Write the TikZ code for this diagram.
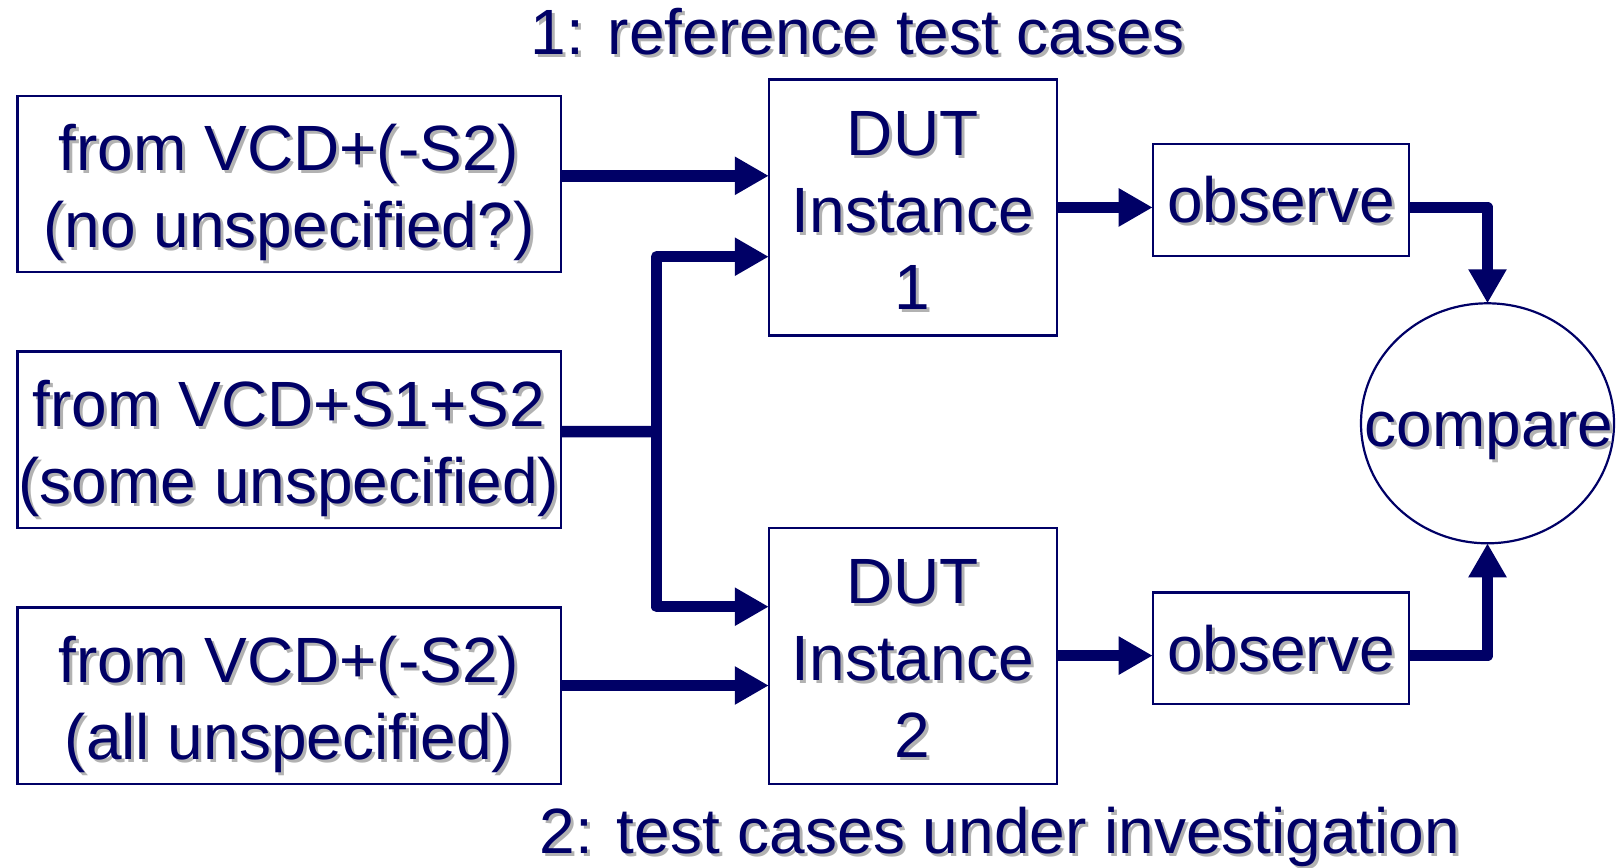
\documentclass[tikz,border=0pt]{standalone}
\usepackage{fontspec}
\setmainfont{Liberation Sans}
\usetikzlibrary{arrows.meta,shapes.geometric}
\definecolor{navy}{RGB}{0,0,102}
\definecolor{shadowc}{RGB}{178,178,178}
\newcommand\shd[1]{\rlap{\kern3pt\raisebox{-3pt}{\textcolor{shadowc}{#1}}}#1}
\begin{document}
\begin{tikzpicture}[x=1pt,y=-1pt,
  box/.style={draw=navy, line width=2.2pt, rectangle, inner sep=0pt, outer sep=0pt},
  oval/.style={draw=navy, line width=2.2pt, ellipse, inner sep=0pt, outer sep=0pt},
  lbl/.style={anchor=base, inner sep=0pt, text=navy, font=\fontsize{64}{77}\selectfont},
  conn/.style={draw=navy, line width=11.5pt, line join=round},
  arr/.style={conn, -{Triangle[length=34pt,width=36pt]}}]
\useasboundingbox (0,0) rectangle (1616,867);

% input boxes
\node[box, minimum width=543.1pt, minimum height=176.2pt] (boxA) at (289.05,183.9) {};
\node[box, minimum width=543.1pt, minimum height=176.2pt] (boxB) at (289.05,439.6) {};
\node[box, minimum width=543.1pt, minimum height=176.2pt] (boxC) at (289.05,695.5) {};
\node[lbl] (tA1) at (289,170.3) {\shd{from VCD+(-S2)}};
\node[lbl] (tA2) at (289,247.3) {\shd{(no unspecified?)}};
\node[lbl] (tB1) at (289,426) {\shd{from VCD+S1+S2}};
\node[lbl] (tB2) at (289,503) {\shd{(some unspecified)}};
\node[lbl] (tC1) at (289,682) {\shd{from VCD+(-S2)}};
\node[lbl] (tC2) at (289,759) {\shd{(all unspecified)}};

% DUT boxes
\node[box, minimum width=287.8pt, minimum height=256pt] (dut1) at (912.7,207.45) {};
\node[box, minimum width=287.8pt, minimum height=256pt] (dut2) at (912.7,655.6) {};
\node[lbl] (tD11) at (912.7,155) {\shd{DUT}};
\node[lbl] (tD12) at (912.7,232) {\shd{Instance}};
\node[lbl] (tD13) at (912.7,309) {\shd{1}};
\node[lbl] (tD21) at (912.7,603.3) {\shd{DUT}};
\node[lbl] (tD22) at (912.7,680.3) {\shd{Instance}};
\node[lbl] (tD23) at (912.7,757.3) {\shd{2}};

% observe boxes
\node[box, minimum width=256.6pt, minimum height=111.7pt] (obs1) at (1281,199.9) {};
\node[box, minimum width=256.6pt, minimum height=111.7pt] (obs2) at (1281,648.3) {};
\node[lbl] (tO1) at (1281,222.7) {\shd{observe}};
\node[lbl] (tO2) at (1281,671.1) {\shd{observe}};

% compare
\node[oval, minimum width=253pt, minimum height=240pt] (cmp) at (1487.5,423.3) {};
\node[lbl] (tCmp) at (1489,446.7) {\shd{compare}};

% titles
\node[lbl] (title1) at (857.5,54.6) {\shd{1: reference test cases}};
\node[lbl] (title2) at (1000,853) {\shd{2: test cases under investigation}};

% connectors
\path ([yshift=8.1pt]boxA.east) coordinate (a0);
\draw[arr] (a0) -- (a0 -| dut1.west);
\path ([yshift=7.9pt]boxB.east) coordinate (b0);
\coordinate (j) at (656.7,431.7);
\draw[conn] (b0) -- (j);
\draw[arr] (j) |- ([yshift=-49.25pt]dut1.west);
\draw[arr] (j) |- ([yshift=48.9pt]dut2.west);
\path ([yshift=10pt]boxC.east) coordinate (c0);
\draw[arr] (c0) -- (c0 -| dut2.west);
\draw[arr] (dut1.east) -- (dut1.east -| obs1.west);
\draw[arr] (dut2.east) -- (dut2.east -| obs2.west);
\draw[arr] (dut1.east -| obs1.east) -| (cmp.north);
\draw[arr] (dut2.east -| obs2.east) -| (cmp.south);
\end{tikzpicture}
\end{document}
